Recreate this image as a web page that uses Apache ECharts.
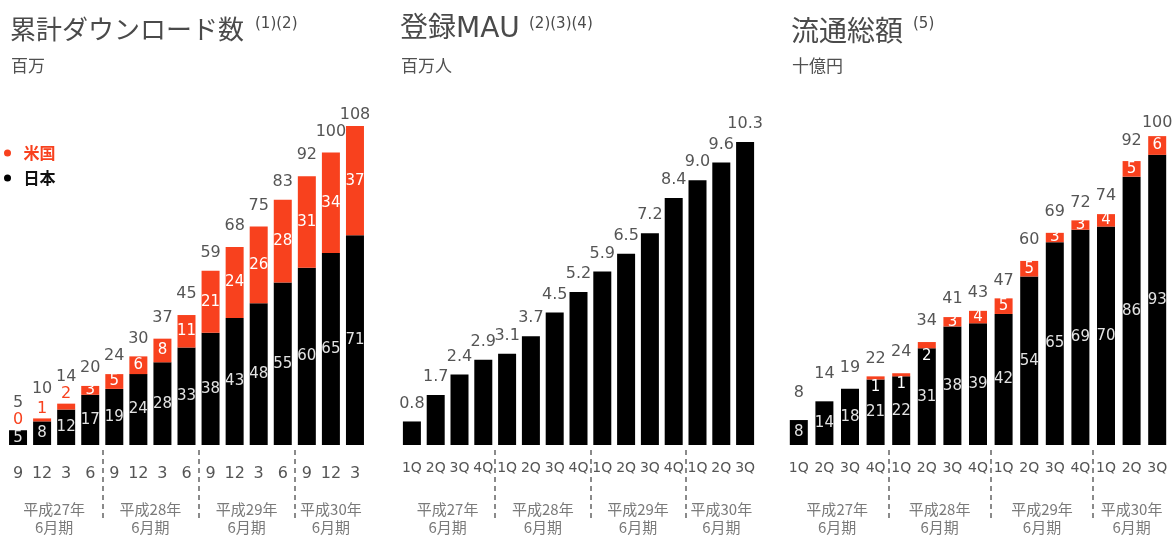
<!DOCTYPE html>
<html><head><meta charset="utf-8">
<script src="https://cdn.jsdelivr.net/npm/echarts@6/dist/echarts.min.js"></script>
<style>html,body{margin:0;padding:0;background:#fff}#c{width:1173px;height:535px}</style>
</head><body><div id="c"></div>
<script>
// ---- data ----
const dlCategories = ['9','12','3','6','9','12','3','6','9','12','3','6','9','12','3'];
const dlJapan = [5,8,12,17,19,24,28,33,38,43,48,55,60,65,71];
const dlUS = [0,1,2,3,5,6,8,11,21,24,26,28,31,34,37];
const dlTotal = [5,10,14,20,24,30,37,45,59,68,75,83,92,100,108];

const quarterCategories = ['1Q','2Q','3Q','4Q','1Q','2Q','3Q','4Q','1Q','2Q','3Q','4Q','1Q','2Q','3Q'];
const mau = [0.8,1.7,2.4,2.9,3.1,3.7,4.5,5.2,5.9,6.5,7.2,8.4,9.0,9.6,10.3];

const gmvJapan = [8,14,18,21,22,31,38,39,42,54,65,69,70,86,93];
const gmvUS = [null,null,null,1,1,2,3,4,5,5,3,3,4,5,6];
const gmvTotal = [8,14,19,22,24,34,41,43,47,60,69,72,74,92,100];

const fiscalGroups = ['平成27年\n6月期','平成28年\n6月期','平成29年\n6月期','平成30年\n6月期'];
const panelTitles = ['累計ダウンロード数','登録MAU','流通総額'];
const panelNotes = ['(1)(2)','(2)(3)(4)','(5)'];
const panelUnits = ['百万','百万人','十億円'];
const legendNames = ['米国','日本'];

// ---- styles / layout ----
const RED = '#f8411e', BLACK = '#000', TXT = '#555';
const NUM = 'DejaVu Sans', JP = 'Noto Sans CJK JP';
const grids = [
  {left:6, top:126, width:361, height:319},
  {left:400, top:142, width:357, height:303},
  {left:786, top:133, width:384, height:312}
];
const yMax = [108, 10.3, 100];
const catData = [dlCategories, quarterCategories, quarterCategories];
const groupCenters = [2, 6, 10, 13.5];
const groupSeps = [4, 8, 12];

const xAxis = [], yAxis = [];
grids.forEach((g, i) => {
  xAxis.push({
    gridIndex: i, type: 'category', data: catData[i],
    axisLine: {show: false}, axisTick: {show: false},
    axisLabel: {interval: 0, fontFamily: NUM, fontSize: i === 0 ? 16 : 14, color: TXT, margin: i === 0 ? 21 : 16}
  });
  xAxis.push({
    gridIndex: i, type: 'value', min: 0, max: 15, position: 'bottom', offset: 5,
    axisLine: {show: false}, splitLine: {show: false},
    axisTick: {show: true, customValues: groupSeps, length: 70, lineStyle: {color: '#8a8a8a', width: 2, type: [5, 4]}},
    axisLabel: {
      customValues: groupCenters,
      formatter: v => fiscalGroups[groupCenters.indexOf(v)] || '',
      fontFamily: JP, fontSize: 15, lineHeight: 18, color: '#7a7a7a', margin: 50
    }
  });
  yAxis.push({gridIndex: i, type: 'value', min: 0, max: yMax[i], show: false});
});

const barBase = {type: 'bar', barWidth: 18, barGap: '-100%'};
const insideLbl = (c) => ({show: true, position: 'inside', color: c, fontFamily: NUM, fontSize: 15});
const totalLbl = {show: true, position: 'top', color: TXT, fontFamily: NUM, fontSize: 16};

const series = [
  // panel 1
  Object.assign({}, barBase, {name: '日本', xAxisIndex: 0, yAxisIndex: 0, stack: 'dl', itemStyle: {color: BLACK},
    data: dlJapan, label: insideLbl('#e2e2e2')}),
  Object.assign({}, barBase, {name: '米国', xAxisIndex: 0, yAxisIndex: 0, stack: 'dl', itemStyle: {color: RED},
    data: dlUS.map((v, i) => i < 3 ? {value: v, label: {position: 'top', distance: 2, color: RED, fontSize: 16}} : v),
    label: insideLbl('#fff')}),
  Object.assign({}, barBase, {name: 'dlTotal', xAxisIndex: 0, yAxisIndex: 0, silent: true, z: 5,
    itemStyle: {color: 'rgba(0,0,0,0)'},
    data: dlTotal.map((v, i) => ({value: v, label: {distance: i < 3 ? 19 : (i === dlTotal.length - 1 ? 3 : 10)}})),
    label: totalLbl}),
  // panel 2
  Object.assign({}, barBase, {name: 'MAU', xAxisIndex: 2, yAxisIndex: 1, itemStyle: {color: BLACK},
    data: mau, label: Object.assign({}, totalLbl, {distance: 10, formatter: p => p.value.toFixed(1)})}),
  // panel 3
  Object.assign({}, barBase, {name: '日本', xAxisIndex: 4, yAxisIndex: 2, stack: 'gmv', itemStyle: {color: BLACK},
    data: gmvJapan, label: insideLbl('#e2e2e2')}),
  Object.assign({}, barBase, {name: '米国', xAxisIndex: 4, yAxisIndex: 2, stack: 'gmv', itemStyle: {color: RED},
    data: gmvUS.map((v, i) => (i >= 3 && i <= 5) ? {value: v, label: {position: 'bottom', distance: 0}} : v),
    label: insideLbl('#fff')}),
  Object.assign({}, barBase, {name: 'gmvTotal', xAxisIndex: 4, yAxisIndex: 2, silent: true, z: 5,
    itemStyle: {color: 'rgba(0,0,0,0)'},
    data: gmvTotal.map((v, i) => ({value: v, label: {distance: i < 2 ? 19 : (i === 13 ? 9 : (i === 14 ? 2 : 10))}})),
    label: totalLbl})
];

const titleLeft = [10, 400, 791];
const titleSize = [26, 28, 28];
const titleFont = [JP, NUM + ', ' + JP, JP];
const noteLeft = [255, 529, 913];
const title = [];
panelTitles.forEach((t, i) => {
  title.push({text: t, left: titleLeft[i], top: 16, padding: 0,
    textStyle: {fontFamily: titleFont[i], fontSize: titleSize[i], color: '#4a4a4a', fontWeight: 'normal'}});
  title.push({text: panelNotes[i], left: noteLeft[i], top: 17, padding: 0,
    textStyle: {fontFamily: NUM, fontSize: 15, color: '#4a4a4a', fontWeight: 'normal'}});
  title.push({text: panelUnits[i], left: titleLeft[i] + 1, top: 57, padding: 0,
    textStyle: {fontFamily: JP, fontSize: 17, color: '#505050', fontWeight: 'normal'}});
});

const option = {
  animation: false,
  backgroundColor: '#fff',
  title: title,
  legend: {
    data: [{name: legendNames[0], textStyle: {color: RED}}, {name: legendNames[1], textStyle: {color: '#111'}}],
    orient: 'vertical', left: 4, top: 145, padding: 0, itemWidth: 22, itemHeight: 7, itemGap: 9,
    icon: 'circle', selectedMode: false,
    textStyle: {fontFamily: JP, fontSize: 16, lineHeight: 16, fontWeight: 'bold'}
  },
  grid: grids.map(g => Object.assign({containLabel: false, outerBoundsMode: 'none'}, g)),
  xAxis: xAxis,
  yAxis: yAxis,
  series: series
};
const chart = echarts.init(document.getElementById('c'), null, {renderer: 'canvas'});
chart.setOption(option);
</script></body></html>
